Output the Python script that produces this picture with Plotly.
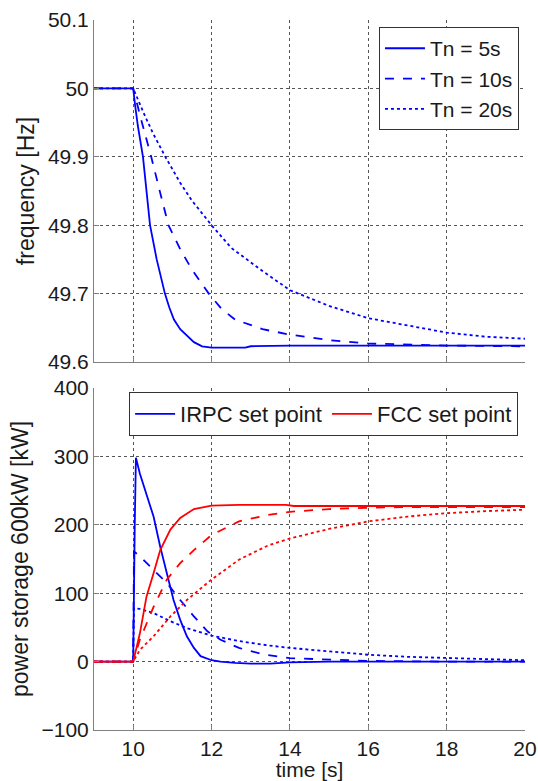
import plotly.graph_objects as go

# ---------------- data ----------------
# top panel: frequency [Hz]
t5 = [9, 10, 10.05, 10.12, 10.25, 10.34, 10.43, 10.6, 10.81, 10.92, 11.04, 11.2, 11.38, 11.55, 11.76, 12, 12.86, 13, 14, 16, 18, 20]
f5 = [50, 50, 49.975, 49.945, 49.9, 49.85, 49.8, 49.75, 49.7, 49.68, 49.662, 49.648, 49.638, 49.629, 49.623, 49.621, 49.621, 49.623, 49.624, 49.624, 49.624, 49.624]

t10 = [9, 10, 10.2, 10.46, 10.7, 10.9, 11.2, 11.5, 11.93, 12.25, 12.6, 13.3, 14, 15, 16, 17, 18, 20]
f10 = [50, 50, 49.955, 49.9, 49.845, 49.8, 49.765, 49.735, 49.7, 49.678, 49.662, 49.648, 49.64, 49.632, 49.627, 49.625, 49.624, 49.623]

t20 = [9, 10, 10.3, 10.5, 10.82, 11.2, 11.5, 12, 12.5, 13.3, 14, 15, 16, 17, 18, 19, 20]
f20 = [50, 50, 49.96, 49.935, 49.9, 49.862, 49.836, 49.8, 49.767, 49.733, 49.705, 49.682, 49.664, 49.654, 49.643, 49.637, 49.634]

# bottom panel: power [kW]
# IRPC set point (blue)
ti5 = [9, 10, 10.04, 10.07, 10.17, 10.34, 10.52, 10.69, 10.86, 11.03, 11.2, 11.37, 11.55, 11.72, 12, 12.23, 12.6, 13, 13.5, 14, 15, 20]
pi5 = [0, 0, 200, 298, 275, 246, 212, 168, 129, 90, 61, 37, 20, 8, 2, 0, -2, -3, -3, -1, 0, 0]

ti10 = [9, 10, 10.02, 10.17, 10.52, 10.86, 11.2, 11.55, 11.9, 12.23, 12.7, 13.36, 14, 15, 16, 18, 20]
pi10 = [0, 0, 161, 154, 134, 115, 90, 66, 44, 32, 20, 10, 5, 3, 1, 0, 0]

ti20 = [9, 10, 10.02, 10.17, 10.52, 10.95, 11.37, 12, 12.7, 13.4, 14, 15, 16, 17, 18, 19, 20]
pi20 = [0, 0, 78, 77, 71, 59, 49, 38, 30, 24, 20, 15, 10, 7, 5, 3, 2]

# FCC set point (red)
tf5 = [9, 10, 10.17, 10.34, 10.52, 10.69, 10.95, 11.2, 11.55, 12, 12.7, 13.9, 14.1, 20]
pf5 = [0, 0, 41, 95, 129, 163, 193, 210, 223, 228, 229, 229, 227.5, 227.5]

tf10 = [9, 10, 10.17, 10.52, 10.86, 11.2, 11.55, 12, 12.7, 13.4, 14, 15, 16, 17, 20]
pf10 = [0, 0, 32, 80, 120, 144, 163, 185, 205, 214, 219, 223, 225, 226, 226]

tf20 = [9, 10, 10.17, 10.52, 10.95, 11.37, 12, 12.7, 13.45, 14, 15, 16, 17, 18, 19, 20]
pf20 = [0, 0, 17, 37, 66, 90, 120, 149, 170, 180, 194, 205, 212, 217, 220, 222]

legend_top = ["Tn = 5s", "Tn = 10s", "Tn = 20s"]
legend_bottom = ["IRPC set point", "FCC set point"]

x_ticks = [10, 12, 14, 16, 18, 20]
y_ticks_top = [49.6, 49.7, 49.8, 49.9, 50, 50.1]
y_ticks_top_text = ["49.6", "49.7", "49.8", "49.9", "50", "50.1"]
y_ticks_bottom = [-100, 0, 100, 200, 300, 400]

BLUE = "#0000FF"
RED = "#FF0000"
FONT = "Liberation Sans, Arial, sans-serif"
TXT = "#1a1a1a"
LW = 1.8

fig = go.Figure()

# top traces
for t, f, name, dash in [(t5, f5, legend_top[0], "solid"),
                         (t10, f10, legend_top[1], "dash"),
                         (t20, f20, legend_top[2], "dot")]:
    fig.add_trace(go.Scatter(x=t, y=f, mode="lines", name=name,
                             line=dict(color=BLUE, width=LW, dash=dash),
                             xaxis="x2", yaxis="y2", legend="legend"))

# bottom traces
fig.add_trace(go.Scatter(x=ti5, y=pi5, mode="lines", name=legend_bottom[0],
                         line=dict(color=BLUE, width=LW), xaxis="x", yaxis="y",
                         legend="legend2"))
fig.add_trace(go.Scatter(x=ti10, y=pi10, mode="lines", showlegend=False,
                         line=dict(color=BLUE, width=LW, dash="dash"), xaxis="x", yaxis="y"))
fig.add_trace(go.Scatter(x=ti20, y=pi20, mode="lines", showlegend=False,
                         line=dict(color=BLUE, width=LW, dash="dot"), xaxis="x", yaxis="y"))
fig.add_trace(go.Scatter(x=tf5, y=pf5, mode="lines", name=legend_bottom[1],
                         line=dict(color=RED, width=LW), xaxis="x", yaxis="y",
                         legend="legend2"))
fig.add_trace(go.Scatter(x=tf10, y=pf10, mode="lines", showlegend=False,
                         line=dict(color=RED, width=LW, dash="dash"), xaxis="x", yaxis="y"))
fig.add_trace(go.Scatter(x=tf20, y=pf20, mode="lines", showlegend=False,
                         line=dict(color=RED, width=LW, dash="dot"), xaxis="x", yaxis="y"))

axis_common = dict(
    showline=True, linecolor="#808080", linewidth=1,
    ticks="inside", ticklen=5, tickcolor="#808080",
    showgrid=True, gridcolor="#555555", gridwidth=1, griddash="3px,3px",
    zeroline=False, mirror=False, automargin=False,
    tickfont=dict(family=FONT, size=21, color=TXT),
)

bot_dom = [0, 342 / 710]
top_dom = [368 / 710, 1]

fig.update_layout(
    width=538, height=781,
    margin=dict(l=94, r=13, t=20, b=51),
    paper_bgcolor="white", plot_bgcolor="white",
    font=dict(family=FONT, size=21, color=TXT),
    xaxis=dict(range=[9, 20], tickvals=x_ticks, domain=[0, 1], anchor="y",
               title=dict(text="time [s]", standoff=2,
                          font=dict(family=FONT, size=21, color=TXT)),
               **axis_common),
    yaxis=dict(range=[-100, 400], tickvals=y_ticks_bottom, domain=bot_dom, anchor="x",
               title=dict(text="power storage 600kW [kW]", standoff=6,
                          font=dict(family=FONT, size=23, color=TXT)),
               **axis_common),
    xaxis2=dict(range=[9, 20], tickvals=x_ticks, showticklabels=False,
                domain=[0, 1], anchor="y2", **axis_common),
    yaxis2=dict(range=[49.6, 50.1], tickvals=y_ticks_top, ticktext=y_ticks_top_text,
                domain=top_dom, anchor="x2",
                title=dict(text="frequency [Hz]", standoff=6,
                           font=dict(family=FONT, size=23, color=TXT)),
                **axis_common),
    legend=dict(x=0.986, y=0.99, xanchor="right", yanchor="top",
                bgcolor="white", bordercolor="#333333", borderwidth=1,
                font=dict(family=FONT, size=21, color=TXT),
                itemwidth=40, tracegroupgap=0),
    legend2=dict(x=0.984, y=0.476, xanchor="right", yanchor="top",
                 orientation="h",
                 bgcolor="white", bordercolor="#333333", borderwidth=1,
                 font=dict(family=FONT, size=22, color=TXT),
                 itemwidth=40),
    showlegend=True,
)

fig.write_html("out.html", config={"displayModeBar": False},
               post_script="document.body.style.margin='0';document.body.style.padding='0';")
